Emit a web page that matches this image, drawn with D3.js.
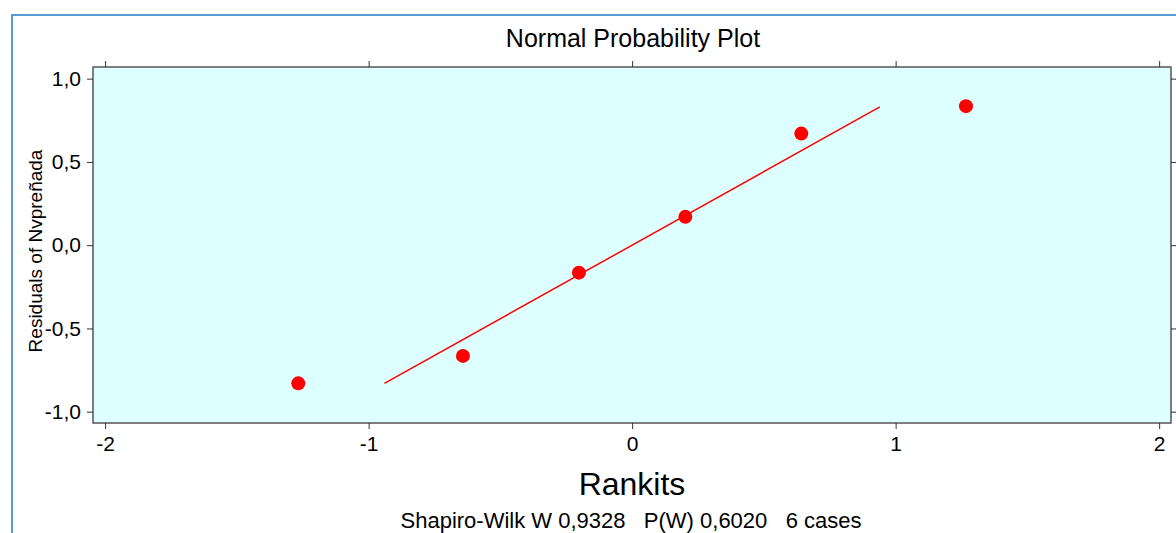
<!DOCTYPE html>
<html>
<head>
<meta charset="utf-8">
<script src="https://cdn.jsdelivr.net/npm/d3@7"></script>
<style>
  body { margin: 0; background: #fff; }
  svg { display: block; font-family: "Liberation Sans", Arial, sans-serif; }
</style>
</head>
<body>
<div id="svg-container"></div>
<script>
// rankits and residuals
const rankits = [-1.267, -0.642, -0.202, 0.202, 0.642, 1.267];
const residuals = [-0.83, -0.665, -0.165, 0.17, 0.67, 0.835];

// reference line end points
const lineX = [-0.94, 0.94];
const lineY = [-0.83, 0.83];

const xTicks = [-2, -1, 0, 1, 2];
const yTicks = [-1, -0.5, 0, 0.5, 1];

const svgWidth = 1176;
const svgHeight = 533;
const margin = { left: 93, right: 5, top: 67, bottom: 110 };
const width = svgWidth - margin.left - margin.right;
const height = svgHeight - margin.top - margin.bottom;

const svg = d3.select('#svg-container')
.append('svg')
.attr('width', svgWidth)
.attr('height', svgHeight);

// blue frame around the whole chart
svg.append('rect')
.attr('x', 12)
.attr('y', 15)
.attr('width', svgWidth + 20)
.attr('height', svgHeight + 20)
.attr('fill', 'none')
.attr('stroke', '#5b9bd5')
.attr('stroke-width', 2);

const g = svg.append('g')
.attr('transform', `translate(${margin.left}, ${margin.top})`);

const x = d3.scaleLinear().domain([-2.046, 2.045]).range([0, width]);
const y = d3.scaleLinear().domain([-1.068, 1.07]).range([height, 0]);

// plot background
g.append('rect')
.attr('width', width)
.attr('height', height)
.attr('fill', '#ddffff')
.attr('stroke', '#555')
.attr('stroke-width', 1.5);

// plain hyphen minus and decimal comma
const fmtY = (d) => d3.format('.1f')(d).replace('.', ',').replace('−', '-');
const fmtX = (d) => String(d);

// axes on all four sides, ticks pointing out
const styleAxis = (sel) => {
    sel.select('.domain').remove();
    sel.selectAll('line').attr('stroke', '#333');
    sel.selectAll('text')
    .attr('font-family', '"Liberation Sans", Arial, sans-serif')
    .attr('font-size', 21)
    .attr('fill', '#000');
};

g.append('g')
.attr('transform', `translate(0, ${height})`)
.call(d3.axisBottom(x).tickValues(xTicks).tickSize(6).tickPadding(7).tickFormat(fmtX))
.call(styleAxis);

g.append('g')
.call(d3.axisTop(x).tickValues(xTicks).tickSize(6).tickFormat(''))
.call(styleAxis);

g.append('g')
.call(d3.axisLeft(y).tickValues(yTicks).tickSize(6).tickPadding(6).tickFormat(fmtY))
.call(styleAxis);

g.append('g')
.attr('transform', `translate(${width}, 0)`)
.call(d3.axisRight(y).tickValues(yTicks).tickSize(6).tickFormat(''))
.call(styleAxis);

// fitted line
g.append('line')
.attr('x1', x(lineX[0]))
.attr('y1', y(lineY[0]))
.attr('x2', x(lineX[1]))
.attr('y2', y(lineY[1]))
.attr('stroke', '#ff0000')
.attr('stroke-width', 1.5);

// points
g.selectAll('circle')
.data(rankits.map((d, i) => [d, residuals[i]]))
.enter()
.append('circle')
.attr('cx', (d) => x(d[0]))
.attr('cy', (d) => y(d[1]))
.attr('r', 7)
.attr('fill', '#ff0000');

// titles
svg.append('text')
.attr('x', 633)
.attr('y', 47)
.attr('text-anchor', 'middle')
.attr('font-size', 25)
.text('Normal Probability Plot');

svg.append('text')
.attr('x', 632)
.attr('y', 495)
.attr('text-anchor', 'middle')
.attr('font-size', 32)
.text('Rankits');

svg.append('text')
.attr('x', 631)
.attr('y', 528)
.attr('text-anchor', 'middle')
.attr('font-size', 22)
.attr('xml:space', 'preserve')
.text('Shapiro-Wilk W 0,9328   P(W) 0,6020   6 cases');

svg.append('text')
.attr('transform', 'translate(42, 251) rotate(-90)')
.attr('text-anchor', 'middle')
.attr('font-size', 19)
.text('Residuals of Nvpreñada');
</script>
</body>
</html>
